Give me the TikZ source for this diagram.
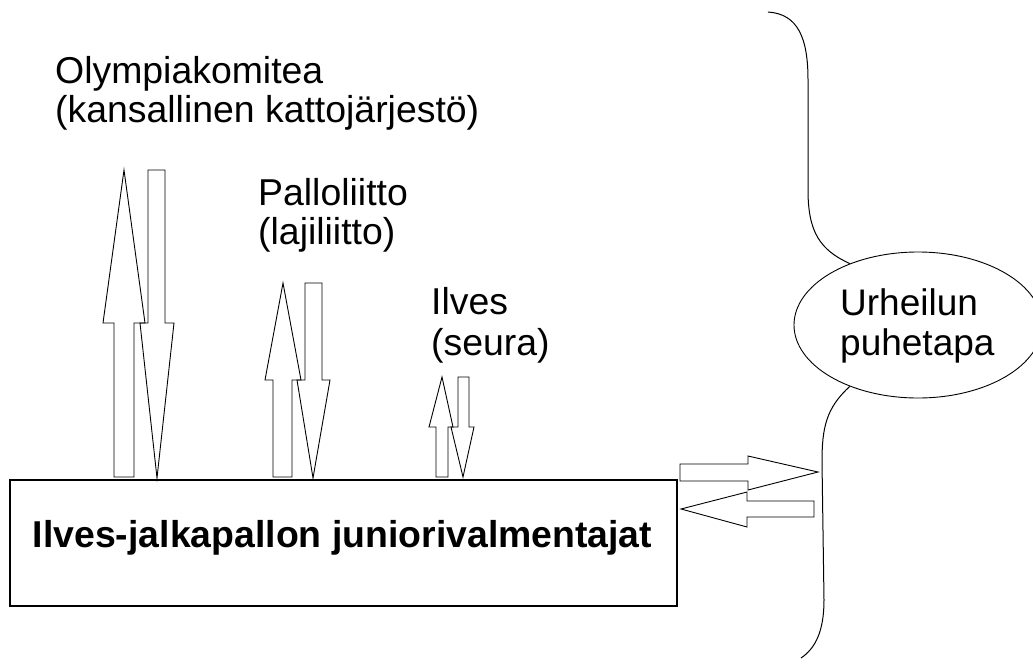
\documentclass[tikz,border=0pt]{standalone}
\usepackage{fontspec}
\setmainfont{Liberation Sans}
\usetikzlibrary{shapes.geometric}
\begin{document}
\begin{tikzpicture}[x=1pt,y=-1pt,
  lbl/.style={inner sep=0pt, anchor=base west, font=\fontsize{37.4}{40}\selectfont},
  blockarrow/.style={draw, line width=0.9pt, line join=miter},
  bracestyle/.style={draw, line width=1pt}]
\useasboundingbox (0,0) rectangle (1033,664);
\fill[white] (0,0) rectangle (1033,664);

% labels
\node[lbl] (olymp1) at (55,83) {Olympiakomitea};
\node[lbl] (olymp2) at (55,122) {(kansallinen kattojärjestö)};
\node[lbl] (pallo1) at (258,205) {Palloliitto};
\node[lbl] (pallo2) at (258,244) {(lajiliitto)};
\node[lbl] (ilves1) at (431,314) {Ilves};
\node[lbl] (ilves2) at (431,355) {(seura)};

% main box
\node[draw, line width=1.2pt, minimum width=667pt, minimum height=126pt, inner sep=0pt] (box) at (343.5,543) {};
\node[lbl, anchor=base, font=\fontsize{37.4}{40}\selectfont\bfseries] (boxtext) at (342.5,547) {Ilves-jalkapallon juniorivalmentajat};

% ellipse
\node[draw, ellipse, line width=0.9pt, minimum width=248pt, minimum height=146pt, inner sep=0pt] (ell) at (918,325) {};
\node[lbl, font=\fontsize{37}{40}\selectfont] (urh1) at (840,315) {Urheilun};
\node[lbl, font=\fontsize{37}{40}\selectfont] (urh2) at (840,355) {puhetapa};

% Olympiakomitea arrows
\draw[blockarrow] (124,170) -- (145,323) -- (134,323) -- (134,477) -- (114,477) -- (114,323) -- (103,323) -- cycle;
\draw[blockarrow] (148,170) -- (165,170) -- (165,323) -- (174,323) -- (157,478) -- (140,323) -- (148,323) -- cycle;

% Palloliitto arrows
\draw[blockarrow] (283,283) -- (301,380) -- (292,380) -- (292,477) -- (273,477) -- (273,380) -- (265,380) -- cycle;
\draw[blockarrow] (305,283) -- (322,283) -- (322,380) -- (330,380) -- (313,478) -- (297,380) -- (305,380) -- cycle;

% Ilves arrows
\draw[blockarrow] (442,377) -- (453,427) -- (448,427) -- (448,477) -- (436,477) -- (436,427) -- (429,427) -- cycle;
\draw[blockarrow] (458,377) -- (469,377) -- (469,427) -- (474,427) -- (463,477) -- (451,427) -- (458,427) -- cycle;

% side arrows
\draw[blockarrow] (680,464) -- (748,464) -- (748,456) -- (818,472) -- (748,490) -- (748,481) -- (680,481) -- cycle;
\draw[blockarrow] (681,509) -- (747,492) -- (747,501) -- (814,501) -- (814,517) -- (747,517) -- (747,527) -- cycle;

% brace
\coordinate (btop) at (768,12);
\coordinate (bbot) at (801,658);
\draw[bracestyle] (btop) .. controls (798,14) and (808,38) .. (808,80) -- (808,190) .. controls (808,232) and (820,250) .. (ell.138);
\draw[bracestyle] (ell.222) .. controls (826,408) and (822,428) .. (822,462) -- (824,600) .. controls (824,630) and (816,648) .. (bbot);
\end{tikzpicture}
\end{document}
